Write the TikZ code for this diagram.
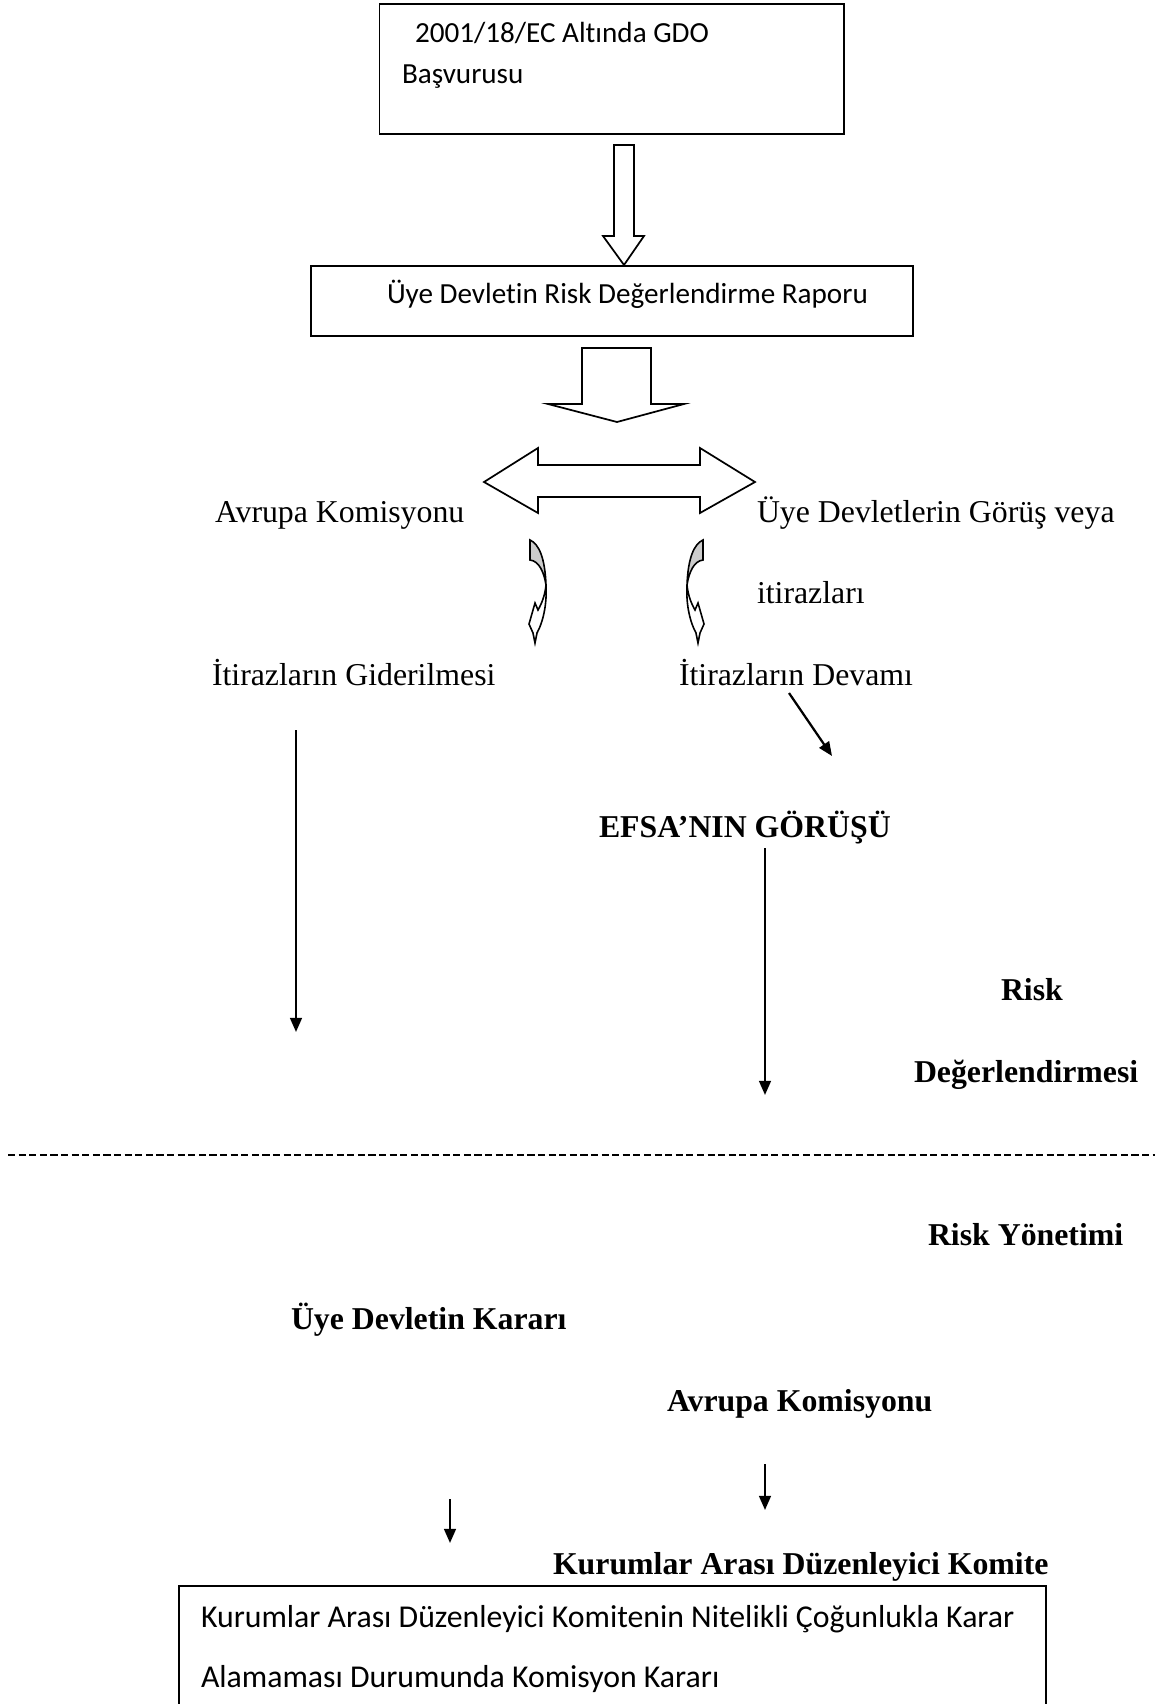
\documentclass[tikz,border=0pt]{standalone}
\usepackage{fontspec}
\setmainfont{Liberation Serif}
\newfontfamily\calibri[Ligatures={NoCommon}]{Carlito}
\usetikzlibrary{arrows.meta}
\begin{document}
\begin{tikzpicture}[x=0.3774pt,y=-0.3774pt,
  tx/.style={inner sep=0,outer sep=0,anchor=base west,font=\fontsize{12}{14}\selectfont},
  bx/.style={inner sep=0,outer sep=0,anchor=base west,font=\fontsize{12}{14}\selectfont\bfseries},
  cb/.style={inner sep=0,outer sep=0,anchor=base west,font=\calibri\fontsize{11}{13}\selectfont},
  cbl/.style={inner sep=0,outer sep=0,anchor=base west,font=\calibri\fontsize{12}{14}\selectfont},
  frame/.style={draw,line width=0.5pt,inner sep=0,outer sep=0,anchor=north west},
  block/.style={draw,line width=0.65pt,fill=white,line join=miter},
  thin/.style={line width=0.85pt,-{Triangle[length=5.3pt,width=4.4pt]}},
  curvedarrow/.pic={
    % grey back face of the curved band
    \filldraw[fill=gray!40,line width=0.6pt]
      (0,0) .. controls (9,4) and (15,18) .. (16,45)
      .. controls (14,32) and (9,21) .. (0,20) -- cycle;
    % white front band ending in the arrow head
    \filldraw[fill=white,line width=0.6pt,line join=miter]
      (16,45) .. controls (17,62) and (14,80) .. (7,93)
      -- (5,103) -- (3,93) -- (-1,84) -- (5,63) -- (8,70)
      .. controls (12,63) and (15,55) .. (16,45) -- cycle;
  }]
\useasboundingbox (0,0) rectangle (1155,1704);
\clip (0,0) rectangle (1155,1704);

% ---- application box
\node[frame,minimum width=464.5*0.3774pt,minimum height=130*0.3774pt] (appbox) at (379.5,4) {};
\node[cb] (app1) at (415,42) {2001/18/EC Altında GDO};
\node[cb] (app2) at (402,83) {Başvurusu};

% ---- hollow arrow to the report
\draw[block] (614,145) -- (634,145) -- (634,236) -- (644,236) -- (624,265)
  -- (603,236) -- (614,236) -- cycle;

% ---- report box
\node[frame,minimum width=602*0.3774pt,minimum height=70*0.3774pt] (repbox) at (311,266) {};
\node[cb] (rep) at (387,303) {Üye Devletin Risk Değerlendirme Raporu};

% ---- wide hollow arrow
\draw[block] (582,348) -- (651,348) -- (651,404) -- (684,404) -- (617,422)
  -- (548,404) -- (582,404) -- cycle;

% ---- two-headed hollow arrow
\draw[block] (484,482) -- (538,448) -- (538,465) -- (700,465) -- (700,448)
  -- (755,482) -- (700,513) -- (700,497) -- (538,497) -- (538,513) -- cycle;

\node[tx] (ak) at (215,522) {Avrupa Komisyonu};
\node[tx] (udg) at (757,522) {Üye Devletlerin Görüş veya};
\node[tx] (itr) at (757,603) {itirazları};

% ---- curved arrows
\pic at (530,540) {curvedarrow};
\pic[xscale=-1] at (703,540) {curvedarrow};

\node[tx] (gid) at (212,685) {İtirazların Giderilmesi};
\node[tx] (dev) at (679,685) {İtirazların Devamı};

\node[bx] (efsa) at (599,837) {EFSA’NIN GÖRÜŞÜ};

% ---- thin arrows
\coordinate (d1) at (789,693);
\coordinate (d2) at (832,756);
\draw[thin] (d1) -- (d2);
\coordinate (l1) at (296,730);
\coordinate (l2) at (296,1032);
\draw[thin] (l1) -- (l2);
\coordinate (r1) at (765,848);
\coordinate (r2) at (765,1095);
\draw[thin] (r1) -- (r2);

\node[bx] (risk) at (1001,1000) {Risk};
\node[bx] (degr) at (914,1082) {Değerlendirmesi};

% ---- separator between assessment and management
\coordinate (s1) at (8,1155);
\coordinate (s2) at (1155,1155);
\draw[line width=0.75pt,dash pattern=on 2.7pt off 1.3pt] (s1) -- (s2);

\node[bx] (ryon) at (928,1245) {Risk Yönetimi};
\node[bx] (udk) at (291,1329) {Üye Devletin Kararı};
\node[bx] (akb) at (667,1411) {Avrupa Komisyonu};

\coordinate (a1) at (765,1464);
\coordinate (a2) at (765,1510);
\draw[thin] (a1) -- (a2);
\coordinate (b1) at (450,1499);
\coordinate (b2) at (450,1543);
\draw[thin] (b1) -- (b2);

\node[bx] (kadk) at (553,1574) {Kurumlar Arası Düzenleyici Komite};

% ---- decision box (runs past the lower edge)
\node[frame,minimum width=867*0.3774pt,minimum height=140*0.3774pt] (decbox) at (179,1586) {};
\node[cbl] (dec1) at (201,1627) {Kurumlar Arası Düzenleyici Komitenin Nitelikli Çoğunlukla Karar};
\node[cbl] (dec2) at (201,1687) {Alamaması Durumunda Komisyon Kararı};
\end{tikzpicture}
\end{document}
